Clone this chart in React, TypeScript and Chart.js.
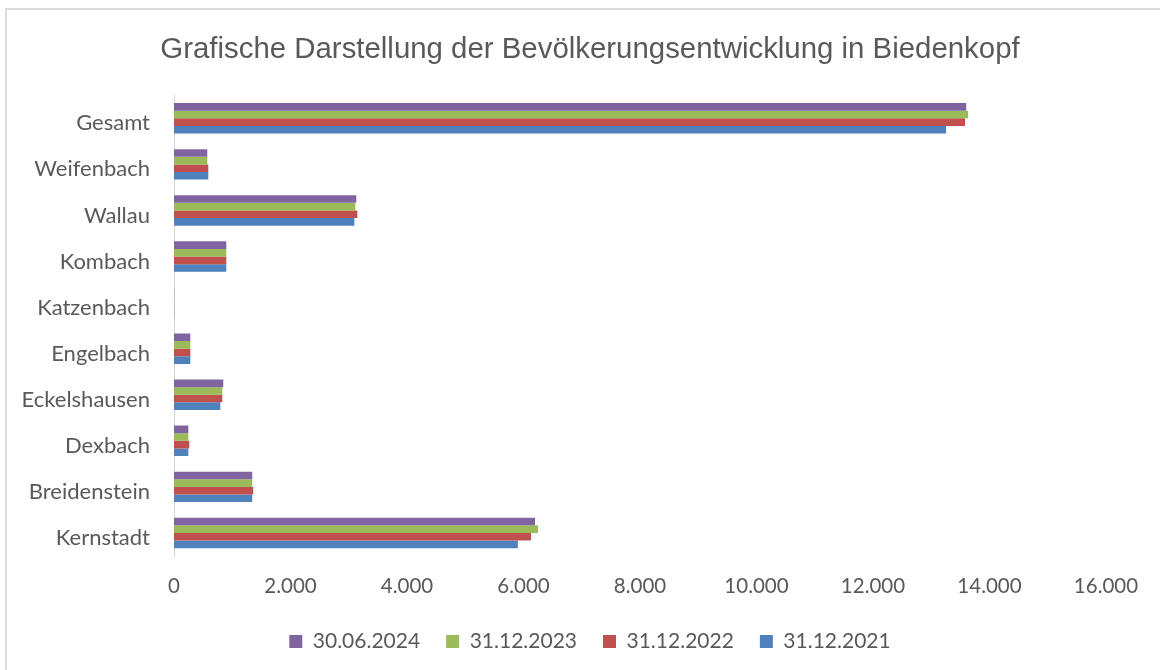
import React, { useEffect, useRef } from "react";
import { Chart, registerables } from "chart.js";

Chart.register(...registerables);

const categories = [
  "Gesamt",
  "Weifenbach",
  "Wallau",
  "Kombach",
  "Katzenbach",
  "Engelbach",
  "Eckelshausen",
  "Dexbach",
  "Breidenstein",
  "Kernstadt",
];

const seriesLabels = ["30.06.2024", "31.12.2023", "31.12.2022", "31.12.2021"];

const values2024 = [13600, 572, 3130, 898, 5, 280, 846, 246, 1343, 6197];
const values2023 = [13633, 572, 3113, 898, 5, 280, 829, 246, 1343, 6250];
const values2022 = [13580, 589, 3147, 898, 5, 280, 829, 263, 1360, 6130];
const values2021 = [13255, 589, 3096, 898, 5, 280, 795, 246, 1343, 5903];

const colors = ["#8064A2", "#9BBB59", "#C0504D", "#4F81BD"];

const xTicks = [0, 2000, 4000, 6000, 8000, 10000, 12000, 14000, 16000];

const fmt = (v: number) => v.toLocaleString("de-DE");

export default function App() {
  const ref = useRef<HTMLCanvasElement | null>(null);

  useEffect(() => {
    document.body.style.margin = "0";
    document.body.style.overflow = "hidden";
    if (!ref.current) return;
    const allValues = [values2024, values2023, values2022, values2021];
    const chart = new Chart(ref.current, {
      type: "bar",
      data: {
        labels: categories,
        datasets: seriesLabels.map((label, i) => ({
          label,
          data: allValues[i],
          backgroundColor: colors[i],
          borderWidth: 0,
          categoryPercentage: 0.66,
          barPercentage: 1,
        })),
      },
      options: {
        indexAxis: "y",
        responsive: false,
        animation: false,
        layout: { padding: { left: 74, right: 54, top: 0, bottom: 8 } },
        plugins: {
          title: {
            display: true,
            text: "Grafische Darstellung der Bevölkerungsentwicklung in Biedenkopf",
            color: "#595959",
            font: { family: "Liberation Sans", size: 29.4, weight: "normal" },
            padding: { top: 32, bottom: 28 },
          },
          legend: {
            position: "bottom",
            labels: {
              color: "#595959",
              font: { family: "Lato", size: 21 },
              boxWidth: 13,
              boxHeight: 13,
              padding: 26,
            },
          },
          tooltip: { enabled: false },
        },
        scales: {
          x: {
            min: 0,
            max: 16000,
            afterBuildTicks: (scale: any) => {
              scale.ticks = xTicks.map((v) => ({ value: v }));
            },
            afterFit: (scale: any) => {
              scale.height = 49;
            },
            grid: { display: false },
            border: { display: false },
            ticks: {
              color: "#595959",
              font: { family: "Lato", size: 20.5 },
              padding: 10,
              callback: (v: any) => fmt(Number(v)),
            },
          },
          y: {
            afterFit: (scale: any) => {
              scale.width = 100;
              scale._computeLabelArea = () => undefined;
            },
            grid: { display: false, drawTicks: false },
            border: { display: true, color: "#d9d9d9", width: 1 },
            ticks: {
              color: "#595959",
              font: { family: "Lato", size: 22 },
              padding: 24,
              labelOffset: 5,
            },
          },
        },
      },
    });
    return () => chart.destroy();
  }, []);

  return (
    <div
      style={{
        position: "fixed",
        left: 0,
        top: 0,
        width: 1160,
        height: 670,
        overflow: "hidden",
        background: "#fff",
      }}
    >
      <div
        style={{
          position: "absolute",
          left: 5,
          top: 8,
          width: 1300,
          height: 800,
          border: "2px solid #dcdcdc",
        }}
      />
      <canvas
        ref={ref}
        width={1160}
        height={670}
        style={{ position: "absolute", left: 0, top: 0 }}
      />
    </div>
  );
}
